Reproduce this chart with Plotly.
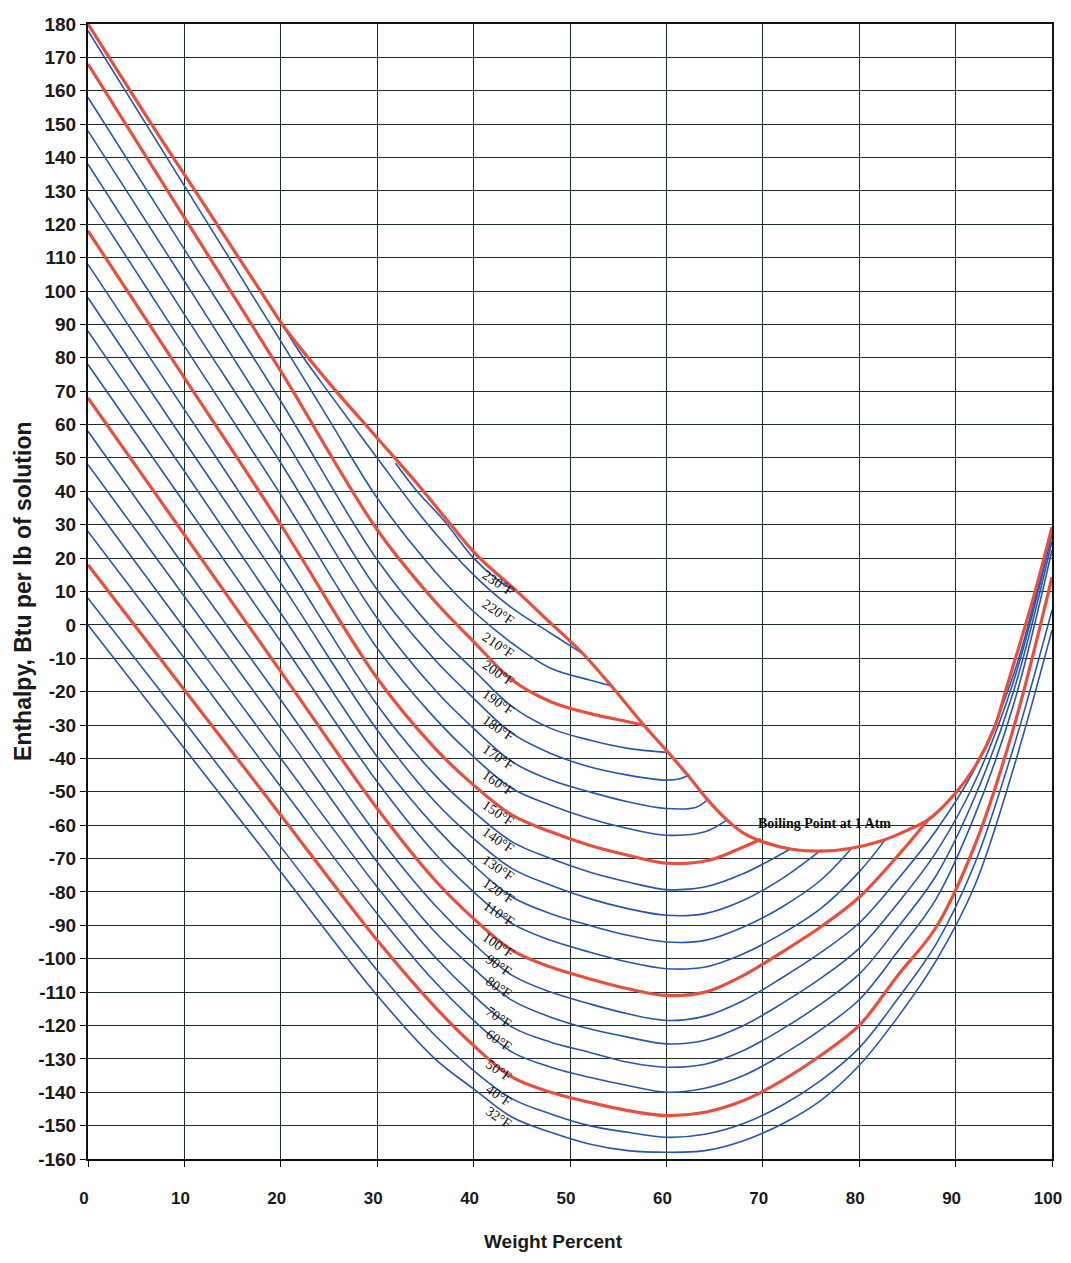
import plotly.graph_objects as go

# ---------------- data ----------------
x_left = [0, 10, 20, 30, 36, 40, 44, 48, 52, 56, 60]
x_right = [64, 68, 72, 76, 80, 84, 88, 92, 96, 100]

# isotherms that run all the way to 100 %
h32_l = [0, -37, -74, -111, -130, -139, -147.5, -152, -155.5, -157.5, -158]
h32_r = [-157.5, -154.5, -149.5, -142.5, -132, -117.5, -100.5, -78, -43, -1.6]
h40_l = [8, -29, -66.5, -103.5, -123, -133.5, -142, -146.5, -150, -152, -153.5]
h40_r = [-152.6, -149.4, -143.9, -136.5, -126.7, -112, -95.5, -71.4, -36.8, 4.4]
h50_l = [18, -19.5, -57, -94.5, -114.5, -126, -135.5, -140, -143, -145.5, -147]
h50_r = [-146, -142.5, -136.5, -129, -120, -105, -90.5, -66, -31, 14.3]
h60_l = [28, -10, -48.5, -86.5, -107, -118.5, -128, -132.5, -135.5, -138, -140]
h60_r = [-138.8, -135, -128.8, -121.3, -112.3, -97.8, -82, -57, -24, 22.4]
h70_l = [38, -1, -40, -78.5, -99.5, -111, -120.5, -125, -128, -131, -132.5]
h70_r = [-131.6, -127.5, -121.1, -113.6, -104.6, -90.6, -75, -51.5, -20, 25]
h80_l = [48, 8.5, -31, -71, -92, -103, -112.5, -117.5, -121, -123.5, -125.5]
h80_r = [-124.4, -120, -113.4, -105.9, -96.9, -83.4, -68, -47, -17, 27]
h90_l = [58, 17.5, -22.5, -63, -84, -95.5, -105, -110, -113.5, -116.5, -118.5]
h90_r = [-117.2, -112.5, -105.7, -98.2, -89.3, -76.2, -61.5, -43, -15, 28.5]

# isotherms that end on the right-hand boiling curve
h100_l = [68, 27, -14, -55, -76.5, -88, -97.5, -102.5, -106, -109, -111]
h100_rx = [64, 68, 72, 76, 80, 84.5, 87.1]
h100_r = [-110, -105, -98, -90.5, -81.6, -67.5, -58.5]
h110_l = [78, 36.5, -5, -47, -68.5, -80, -89.5, -94.5, -98, -101, -103]
h110_rx = [64, 68, 72, 76, 80, 82.6]
h110_r = [-102.5, -98.5, -92.5, -85, -74, -64.7]
h120_l = [88, 46, 3.5, -39.5, -60.5, -72, -81.5, -86.5, -90, -93, -95]
h120_rx = [64, 68, 72, 76, 79.2]
h120_r = [-94.5, -90.5, -84.5, -76.5, -67]
h130_l = [98, 55, 12.5, -31.5, -53, -64, -73, -78, -82, -85, -87]
h130_rx = [64, 68, 72, 76.1]
h130_r = [-86.5, -82.5, -76, -67.3]
h140_l = [108, 64.5, 21, -24, -45, -56, -65, -70, -74, -77, -79.3]
h140_rx = [64, 68, 72.8]
h140_r = [-78.5, -74.5, -67.2]
h150_l = [118, 74, 30, -16, -37, -48, -57, -62, -66, -69, -71.4]
h150_rx = [64.4, 67.9, 69.8]
h150_r = [-70.5, -66.6, -64.2]
h160_l = [128, 83.5, 39, -7, -28, -39.5, -49, -54, -58, -61, -63]
h160_rx = [64, 66.4]
h160_r = [-62, -58.2]
h170_l = [138, 93, 48.5, 2, -19.5, -31, -41, -46.5, -50, -53, -55]
h170_rx = [63.1, 64.4]
h170_r = [-54.6, -52]
h180_l = [148, 103, 57.5, 10.5, -10.5, -22, -32.5, -38.5, -42.5, -45, -46.5]
h180_rx = [61.5, 62.4]
h180_r = [-46, -44.8]
h190_l = [158, 112.5, 67, 19.5, -2, -13.5, -24.5, -31, -34.5, -37, -38.2]

# isotherms that end on the left-hand boiling curve
h200_x = [0, 10, 20, 30, 36, 40, 44, 48, 52, 56, 57.6]
h200_y = [168, 122, 76, 28.5, 7, -5, -16.5, -23, -26.5, -29, -30]
h210_x = [0, 10, 20, 25, 30, 36, 40, 44, 48, 52, 54.5]
h210_y = [178, 131.5, 85, 61.5, 38, 16, 4, -5.5, -13, -16.5, -18.4]
h220_x = [16, 18, 20, 22, 25, 30, 35, 40, 44, 48, 51.5]
h220_y = [108.5, 99.5, 90.5, 81.5, 69.5, 50, 31, 15, 5, -2.5, -9]
h230_x = [31.9, 34, 37, 40, 42.5, 44.7]
h230_y = [48.4, 40.5, 31, 20, 13.5, 9.5]

# boiling point at 1 atm
boil_x = [0, 6.7, 10.1, 14.5, 17.9, 20.4, 25, 30, 34, 37.5, 40.3, 44.7, 48,
          51.3, 54.4, 57.5, 60, 62.2, 64.3, 66.3, 68, 70, 73, 76, 79, 82.5,
          85, 87.1, 90, 92, 94, 95.3, 98, 100]
boil_y = [180, 149.5, 134.5, 115, 100, 89, 72.5, 56, 42.8, 30.5, 21, 9.5, 0.5,
          -8.5, -18.7, -29.5, -37.6, -45, -52.5, -58.5, -62.4, -65, -67.2,
          -67.8, -67, -64.5, -61.5, -58.5, -50.4, -42.5, -31, -18.7, 7.4, 29.3]

# isotherm labels
label_text = ["230°F", "220°F", "210°F", "200°F", "190°F", "180°F", "170°F",
              "160°F", "150°F", "140°F", "130°F", "120°F", "110°F", "100°F",
              "90°F", "80°F", "70°F", "60°F", "50°F", "40°F", "32°F"]
label_y = [12.5, 3.8, -6.1, -14.5, -23.2, -31, -39.7, -47.4, -56.4, -64.5,
           -72.9, -80, -86.4, -96, -102, -108.6, -117.6, -124.5, -133.5,
           -141, -147.5]
label_x = 42.6

x_ticks = list(range(0, 101, 10))
y_ticks = list(range(-160, 181, 10))

BLUE = "#2755b0"
RED = "#e8503e"

# ---------------- build figure ----------------
curves = [
    ("32", x_left + x_right, h32_l + h32_r, BLUE),
    ("40", x_left + x_right, h40_l + h40_r, BLUE),
    ("60", x_left + x_right, h60_l + h60_r, BLUE),
    ("70", x_left + x_right, h70_l + h70_r, BLUE),
    ("80", x_left + x_right, h80_l + h80_r, BLUE),
    ("90", x_left + x_right, h90_l + h90_r, BLUE),
    ("110", x_left + h110_rx, h110_l + h110_r, BLUE),
    ("120", x_left + h120_rx, h120_l + h120_r, BLUE),
    ("130", x_left + h130_rx, h130_l + h130_r, BLUE),
    ("140", x_left + h140_rx, h140_l + h140_r, BLUE),
    ("160", x_left + h160_rx, h160_l + h160_r, BLUE),
    ("170", x_left + h170_rx, h170_l + h170_r, BLUE),
    ("180", x_left + h180_rx, h180_l + h180_r, BLUE),
    ("190", x_left, h190_l, BLUE),
    ("210", h210_x, h210_y, BLUE),
    ("220", h220_x, h220_y, BLUE),
    ("230", h230_x, h230_y, BLUE),
    ("50", x_left + x_right, h50_l + h50_r, RED),
    ("100", x_left + h100_rx, h100_l + h100_r, RED),
    ("150", x_left + h150_rx, h150_l + h150_r, RED),
    ("200", h200_x, h200_y, RED),
    ("Boiling", boil_x, boil_y, RED),
]

fig = go.Figure()
for name, xs, ys, col in curves:
    fig.add_trace(go.Scatter(
        x=xs, y=ys, mode="lines", name=name,
        line=dict(color=col, width=3.2 if col == RED else 1.6,
                  shape="spline", smoothing=1.0),
        hoverinfo="skip", showlegend=False))

for t, yy in zip(label_text, label_y):
    fig.add_annotation(x=label_x, y=yy, xref="x", yref="y", text=t,
                       showarrow=False, textangle=34,
                       font=dict(family="Liberation Serif, Times New Roman, serif",
                                 size=14, color="#111111"))

fig.add_annotation(x=76.4, y=-59.4, xref="x", yref="y",
                   text="Boiling Point at 1 Atm", showarrow=False,
                   font=dict(family="Liberation Serif, Times New Roman, serif",
                             size=14, color="#111111", weight="bold"))

# axis titles
fig.add_annotation(x=-0.068, y=0.50, xref="paper", yref="paper",
                   xanchor="center", yanchor="middle",
                   text="Enthalpy, Btu per lb of solution", showarrow=False,
                   textangle=-90,
                   font=dict(family="Liberation Sans, Arial, sans-serif",
                             size=23, color="#1a1a1a", weight="bold"))
fig.add_annotation(x=0.483, y=-0.073, xref="paper", yref="paper",
                   xanchor="center", yanchor="middle",
                   text="Weight Percent", showarrow=False,
                   font=dict(family="Liberation Sans, Arial, sans-serif",
                             size=19, color="#1a1a1a", weight="bold"))

tick_font = dict(family="Liberation Sans, Arial, sans-serif",
                 size=19, color="#1a1a1a", weight="bold")
xtick_font = dict(family="Liberation Sans, Arial, sans-serif",
                  size=17, color="#1a1a1a", weight="bold")

fig.update_xaxes(range=[0, 100], tickvals=x_ticks,
                 ticktext=[str(v) for v in x_ticks],
                 showgrid=True, gridcolor="#1a2e2e", gridwidth=1,
                 showline=True, linecolor="#111111", linewidth=2, mirror=True,
                 ticks="outside", ticklen=6, tickcolor="#111111",
                 ticklabelstandoff=17, ticklabelshift=-4,
                 ticklabeloverflow="allow",
                 automargin=False, zeroline=False, tickfont=xtick_font)
fig.update_yaxes(range=[-160, 180], tickvals=y_ticks,
                 ticktext=[str(v) for v in y_ticks],
                 showgrid=True, gridcolor="#1a2e2e", gridwidth=1,
                 showline=True, linecolor="#111111", linewidth=2, mirror=True,
                 ticks="outside", ticklen=6, tickcolor="#111111",
                 ticklabeloverflow="allow",
                 automargin=False, zeroline=False, tickfont=tick_font)

# the page adds an 8 px body margin on every side, so the figure is 16 px
# smaller than the window in both directions
fig.update_layout(width=1055, height=1247,
                  margin=dict(l=80, r=11, t=16, b=96, autoexpand=False),
                  paper_bgcolor="white", plot_bgcolor="white",
                  showlegend=False)

fig.write_html("out.html")
